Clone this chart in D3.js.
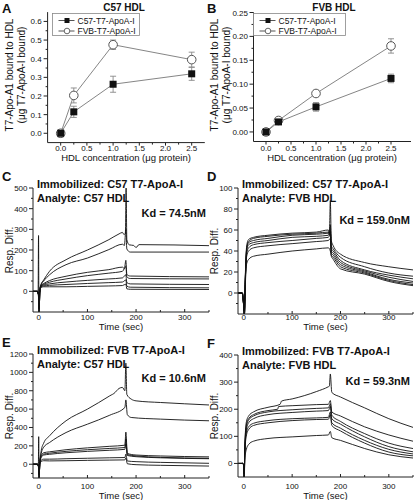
<!DOCTYPE html>
<html><head><meta charset="utf-8">
<script src="https://cdn.jsdelivr.net/npm/d3@7"></script>
<style>body{margin:0;background:#fff} text{font-family:"Liberation Sans",Arial,sans-serif;fill:#111}</style>
</head><body><svg id="c" width="414" height="500"></svg>
<script>
// ---------- Data: binding assays (A, B) ----------
const hdlConc = [0, 0.25, 1.0, 2.5];
const aC57 = [0.0, 0.115, 0.263, 0.319];
const aC57Err = [0.01, 0.03, 0.043, 0.035];
const aFVB = [0.0, 0.203, 0.475, 0.395];
const aFVBErr = [0.02, 0.04, 0.025, 0.04];
const bC57 = [0.0, 0.021, 0.0525, 0.112];
const bC57Err = [0.002, 0.003, 0.009, 0.009];
const bFVB = [0.0, 0.024, 0.0805, 0.180];
const bFVBErr = [0.002, 0.004, 0.004, 0.015];
const aYTicks = [0.0, 0.1, 0.2, 0.3, 0.4, 0.5, 0.6];
const bYTicks = [0.00, 0.05, 0.10, 0.15, 0.20, 0.25];
const concTicks = [0.0, 0.5, 1.0, 1.5, 2.0, 2.5];
const seriesNames = ["C57-T7-ApoA-I", "FVB-T7-ApoA-I"];

// ---------- Data: sensorgrams (C-F), [time, response] ----------
const timeTicks = [0, 100, 200, 300];
const cYTicks = [0, 100, 200, 300, 400, 500];
const dYTicks = [0, 20, 40, 60, 80, 100];
const eYTicks = [0, 200, 400, 600, 800, 1000, 1200];
const fYTicks = [0, 100, 200, 300, 400];

const tracesC = [
 [[-12,0],[-3,0],[-1.5,-12],[-0.6,270],[0.2,-100],[1.5,-5],[4,30],[10,55],[22,97],[56,153],[100,200],[144,250],[165,278],[172,285],[175,275],[178,280],[179.5,500],[181,250],[186,225],[195,222],[200,212],[206,226],[350,221]],
 [[-12,0],[-3,0],[-1,-15],[0.5,-100],[2,-5],[4,28],[10,50],[22,80],[56,129],[100,161],[144,202],[172,228],[176,222],[179,300],[181,205],[188,190],[350,190]],
 [[-12,0],[-3,0],[-1,-15],[0.6,-95],[2,-5],[4,28],[10,38],[22,52],[56,73],[100,92],[144,105],[172,117],[176,110],[179,150],[181,82],[188,74],[350,70]],
 [[-12,0],[-3,0],[-1,-12],[0.7,-90],[2,-5],[4,27],[10,34],[22,44],[56,60],[100,76],[144,88],[172,97],[179,120],[181,70],[188,62],[350,60]],
 [[-12,0],[-3,0],[-1,-10],[0.8,-85],[2,-5],[4,25],[10,30],[22,36],[56,45],[100,53],[144,60],[172,65],[179,80],[181,42],[188,36],[350,33]],
 [[-12,0],[-3,0],[-1,-10],[0.8,-80],[2,-5],[4,22],[10,26],[22,29],[56,33],[100,38],[144,42],[172,45],[179,55],[181,25],[188,20],[350,17]],
 [[-12,0],[-3,0],[-1,-10],[0.9,-75],[2,-5],[4,18],[10,22],[22,22],[56,22],[100,24],[144,26],[172,28],[179,35],[181,12],[188,10],[350,9]]
];
const tracesD = [
 [[-12,0],[-3,0],[-1,-8],[1,-20],[3,15],[6,45],[10,51],[20,53],[50,55],[100,57],[150,58],[175,60],[177,56],[179,88],[181,50],[185,45],[200,37],[250,29],[300,25],[350,22]],
 [[-12,0],[-3,0],[-1,-8],[1.2,-20],[3,12],[6,43],[10,49],[20,52],[50,54],[100,56],[150,57],[175,58],[177,55],[179,65],[181,45],[185,42],[200,34],[250,25],[300,19],[350,16]],
 [[-12,0],[-3,0],[-1,-8],[1.2,-20],[3,12],[6,42],[10,48],[20,50],[50,52],[100,55],[150,56],[175,57],[179,60],[181,42],[185,40],[200,31],[250,22],[300,17],[350,13.5]],
 [[-12,0],[-3,0],[-1,-8],[1.3,-20],[3,10],[6,40],[10,46],[20,48],[50,50],[100,53],[150,54],[175,55],[179,58],[181,40],[185,38],[200,29],[250,21],[300,15],[350,11]],
 [[-12,0],[-3,0],[-1,-8],[1.3,-20],[3,10],[6,38],[10,43],[20,46],[50,48],[100,50],[150,52],[175,53],[179,56],[181,38],[185,36],[200,27],[250,20],[300,13],[350,9.5]],
 [[-12,0],[-3,0],[-1,-8],[1.4,-20],[3,8],[6,35],[10,40],[20,43],[50,45],[100,47],[150,49],[175,50],[179,52],[181,36],[185,34],[200,25],[250,19],[300,12],[350,8]],
 [[-12,0],[-3,0],[-1,-8],[1.5,-20],[3,5],[6,28],[10,32],[20,35],[50,37],[100,40],[150,42],[175,43],[179,40],[181,35],[185,32],[200,23],[250,18],[300,11],[350,7]]
];
const tracesE = [
 [[-12,0],[-3,0],[-1,-20],[-0.3,300],[0.5,-150],[2,20],[5,150],[10,230],[22,309],[56,473],[100,600],[146,745],[157,782],[160,800],[165,825],[172,836],[177,800],[179,1100],[181,760],[190,709],[200,690],[250,672],[300,658],[350,645]],
 [[-12,0],[-3,0],[-1,-20],[0.5,-150],[2,20],[5,120],[10,185],[22,236],[56,345],[100,436],[146,534],[177,618],[179,700],[182,540],[190,509],[250,491],[350,473]],
 [[-12,0],[-3,0],[-1,-15],[0.6,-140],[2,10],[5,95],[10,125],[22,135],[56,158],[100,178],[146,195],[177,207],[179,350],[182,118],[200,100],[250,90],[350,80]],
 [[-12,0],[-3,0],[-1,-15],[0.7,-130],[2,10],[5,85],[10,110],[22,120],[56,140],[100,158],[146,172],[177,182],[179,280],[182,105],[200,90],[250,75],[350,65]],
 [[-12,0],[-3,0],[-1,-15],[0.8,-120],[2,10],[5,75],[10,100],[22,108],[56,125],[100,140],[146,152],[177,162],[179,220],[182,95],[200,82],[250,70],[350,60]],
 [[-12,0],[-3,0],[-1,-15],[0.9,-110],[2,5],[5,45],[10,55],[22,55],[56,60],[100,65],[146,70],[177,73],[179,110],[182,35],[200,28],[250,20],[350,10]],
 [[-12,0],[-3,0],[-1,-15],[1,-100],[2,0],[5,30],[10,38],[22,36],[56,38],[100,42],[146,45],[177,47],[179,70],[182,5],[200,-5],[250,-12],[350,-20]]
];
const tracesF = [
 [[-12,0],[-2,0],[-0.5,-5],[0.8,-50],[2,50],[5,150],[10,175],[20,190],[50,207],[75,218],[78,230],[100,238],[150,265],[175,283],[177,285],[179,330],[182,262],[200,245],[250,205],[300,165],[350,133]],
 [[-12,0],[-2,0],[-0.5,-5],[0.8,-50],[2,50],[5,140],[10,165],[20,180],[50,195],[70,200],[72,210],[100,213],[150,217],[175,218],[179,232],[182,190],[200,175],[250,135],[300,105],[350,82]],
 [[-12,0],[-2,0],[-0.5,-5],[0.9,-50],[2,45],[5,130],[10,160],[20,175],[50,190],[100,198],[150,203],[175,205],[179,220],[182,178],[200,155],[250,110],[300,75],[350,55]],
 [[-12,0],[-2,0],[-0.5,-5],[0.9,-50],[2,40],[5,120],[10,150],[20,165],[50,180],[100,188],[150,193],[175,195],[179,210],[182,165],[200,145],[250,98],[300,62],[350,43]],
 [[-12,0],[-2,0],[-0.5,-5],[1,-50],[2,35],[5,110],[10,135],[20,148],[50,158],[100,165],[150,168],[175,170],[179,190],[182,150],[200,130],[250,85],[300,52],[350,35]],
 [[-12,0],[-2,0],[-0.5,-5],[1,-50],[2,30],[5,100],[10,125],[20,140],[50,150],[100,158],[150,162],[175,163],[179,180],[182,140],[200,120],[250,75],[300,42],[350,28]],
 [[-12,0],[-2,0],[-0.5,-5],[1.1,-50],[2,15],[5,50],[10,70],[20,82],[50,92],[100,98],[150,103],[175,105],[179,118],[182,95],[200,85],[250,55],[300,32],[350,20]]
];

// ---------- Drawing ----------
const svg = d3.select("#c");

function label(x, y, s, size, opts = {}) {
  const t = svg.append("text").attr("x", x).attr("y", y).text(s)
    .style("font-size", size + "px")
    .attr("text-anchor", opts.anchor || "start")
    .style("font-weight", opts.bold ? "bold" : "normal");
  if (opts.rotate) t.attr("transform", `rotate(-90,${x},${y})`);
  return t;
}

function leftAxis(x, y, ticks, minor, fmt, labelOff) {
  const g = svg.append("g");
  g.append("line").attr("x1", x.range()[0]).attr("x2", x.range()[0])
    .attr("y1", y.range()[0]).attr("y2", y.range()[1]).attr("stroke", "#222");
  const x0 = x.range()[0];
  minor.forEach(v => g.append("line").attr("x1", x0 - 2).attr("x2", x0).attr("y1", y(v)).attr("y2", y(v)).attr("stroke", "#222"));
  ticks.forEach(v => {
    g.append("line").attr("x1", x0 - 4).attr("x2", x0).attr("y1", y(v)).attr("y2", y(v)).attr("stroke", "#222");
    label(x0 - labelOff, y(v) + 3, fmt(v), 8, {anchor: "end"});
  });
}

function bottomAxis(x, y, ticks, minor, fmt, labY, inward) {
  const g = svg.append("g");
  const y0 = y.range()[0];
  g.append("line").attr("x1", x.range()[0]).attr("x2", x.range()[1])
    .attr("y1", y0).attr("y2", y0).attr("stroke", "#222");
  const d = inward ? -1 : 1;
  minor.forEach(v => g.append("line").attr("x1", x(v)).attr("x2", x(v)).attr("y1", y0).attr("y2", y0 + d * 2).attr("stroke", "#222"));
  ticks.forEach(v => {
    g.append("line").attr("x1", x(v)).attr("x2", x(v)).attr("y1", y0).attr("y2", y0 + d * 3).attr("stroke", "#222");
    label(x(v), labY, fmt(v), 8, {anchor: "middle"});
  });
}

// ----- Panels A and B -----
function bindingPanel(x, y, c57, c57e, fvb, fvbe, yTicks, yMinor, yFmt, yLabOff, legX, legW) {
  leftAxis(x, y, yTicks, yMinor, yFmt, yLabOff);
  bottomAxis(x, y, concTicks, [0.25, 0.75, 1.25, 1.75, 2.25], d3.format(".1f"), 151, false);
  const line = d3.line().x((d, i) => x(hdlConc[i])).y(d => y(d));
  [[c57, c57e], [fvb, fvbe]].forEach(([vals, errs]) => {
    svg.append("path").attr("d", line(vals)).attr("fill", "none").attr("stroke", "#777").attr("stroke-width", 0.9);
    vals.forEach((v, i) => {
      const cx = x(hdlConc[i]);
      const g = svg.append("g").attr("stroke", "#888").attr("stroke-width", 0.9);
      g.append("line").attr("x1", cx).attr("x2", cx).attr("y1", y(v - errs[i])).attr("y2", y(v + errs[i]));
      g.append("line").attr("x1", cx - 3).attr("x2", cx + 3).attr("y1", y(v - errs[i])).attr("y2", y(v - errs[i]));
      g.append("line").attr("x1", cx - 3).attr("x2", cx + 3).attr("y1", y(v + errs[i])).attr("y2", y(v + errs[i]));
    });
  });
  fvb.forEach((v, i) => svg.append("circle").attr("cx", x(hdlConc[i])).attr("cy", y(v)).attr("r", 4.3)
    .attr("fill", "#fff").attr("stroke", "#555").attr("stroke-width", 1));
  c57.forEach((v, i) => svg.append("rect").attr("x", x(hdlConc[i]) - 3.5).attr("y", y(v) - 3.5)
    .attr("width", 7).attr("height", 7).attr("fill", "#111"));
  // legend
  svg.append("rect").attr("x", legX).attr("y", 13.5).attr("width", legW).attr("height", 22)
    .attr("fill", "#fff").attr("stroke", "#888").attr("stroke-width", 0.8);
  [20.5, 31].forEach((ly, k) => {
    svg.append("line").attr("x1", legX + 6).attr("x2", legX + 22).attr("y1", ly).attr("y2", ly).attr("stroke", "#555");
    if (k === 0) svg.append("rect").attr("x", legX + 12).attr("y", ly - 2.5).attr("width", 5).attr("height", 5).attr("fill", "#111");
    else svg.append("circle").attr("cx", legX + 14.5).attr("cy", ly).attr("r", 2.8).attr("fill", "#fff").attr("stroke", "#666");
    label(legX + 25, ly + 3, seriesNames[k], 8.5);
  });
}

const xA = d3.scaleLinear().domain([-0.25, 2.75]).range([47.6, 204.8]);
const yA = d3.scaleLinear().domain([-0.05, 0.65]).range([142.6, 12.1]);
bindingPanel(xA, yA, aC57, aC57Err, aFVB, aFVBErr, aYTicks, [0.05, 0.15, 0.25, 0.35, 0.45, 0.55], d3.format(".1f"), 6, 52.5, 87);
const xB = d3.scaleLinear().domain([-0.25, 2.9]).range([253.5, 411]);
const yB = d3.scaleLinear().domain([-0.02, 0.25]).range([141.5, 12.5]);
bindingPanel(xB, yB, bC57, bC57Err, bFVB, bFVBErr, bYTicks, [0.025, 0.075, 0.125, 0.175, 0.225], d3.format(".2f"), 5.5, 253.5, 92);

label(2, 13, "A", 13, {bold: true});
label(207, 13, "B", 13, {bold: true});
label(124, 11, "C57 HDL", 10, {bold: true, anchor: "middle"});
label(334, 11, "FVB HDL", 10, {bold: true, anchor: "middle"});
label(126, 161, "HDL concentration (μg protein)", 9.5, {anchor: "middle"});
label(332, 161, "HDL concentration (μg protein)", 9.5, {anchor: "middle"});
label(12.5, 75, "T7-Apo-A1 bound to HDL", 10, {anchor: "middle", rotate: true});
label(24.5, 75, "(μg T7-ApoA-I bound)", 10, {anchor: "middle", rotate: true});
label(217.5, 75, "T7-Apo-A1 bound to HDL", 10, {anchor: "middle", rotate: true});
label(229.5, 75, "(μg T7-ApoA-I bound)", 10, {anchor: "middle", rotate: true});

// ----- Sensorgram panels -----
function sensorPanel(id, left, right, top, bottom, yDom, yTicks, yMinor, traces, letter, immob, analyte, kd, kdY, labY) {
  const x = d3.scaleLinear().domain([-12, 350]).range([left, right]);
  const y = d3.scaleLinear().domain(yDom).range([bottom, top]);
  svg.append("clipPath").attr("id", "clip" + id).append("rect")
    .attr("x", left).attr("y", top - 1).attr("width", right - left).attr("height", bottom - top + 1);
  const line = d3.line().x(d => x(d[0])).y(d => y(d[1])).curve(d3.curveMonotoneX);
  const g = svg.append("g").attr("clip-path", `url(#clip${id})`);
  traces.forEach(tr => g.append("path").attr("d", line(tr)).attr("fill", "none")
    .attr("stroke", "#111").attr("stroke-width", 0.9));
  leftAxis(x, y, yTicks, yMinor, d3.format("d"), 5.5);
  bottomAxis(x, y, timeTicks, [50, 150, 250, 350], d3.format("d"), labY, true);
  label((left + right) / 2, labY + 10, "Time (sec)", 9.5, {anchor: "middle"});
  label(left - 20, (top + bottom) / 2, "Resp. Diff.", 10, {anchor: "middle", rotate: true});
  label(left - 31, top - 7, letter, 13, {bold: true});
  label(left + 4, top, immob, 11, {bold: true});
  label(left + 4, top + 13.5, analyte, 11, {bold: true});
  label(right - 3, kdY, kd, 11, {bold: true, anchor: "end"});
}

sensorPanel("C", 33, 209, 188, 312, [-100, 500], cYTicks, [-50, 50, 150, 250, 350, 450], tracesC,
  "C", "Immobilized: C57 T7-ApoA-I", "Analyte: C57 HDL", "Kd = 74.5nM", 217, 320);
sensorPanel("D", 238, 413, 188, 314, [-20, 100], dYTicks, [-10, 10, 30, 50, 70, 90], tracesD,
  "D", "Immobilized: C57 T7-ApoA-I", "Analyte: FVB HDL", "Kd = 159.0nM", 224, 320);
sensorPanel("E", 33, 209, 354, 478, [-150, 1200], eYTicks, [-100, 100, 300, 500, 700, 900, 1100], tracesE,
  "E", "Immobilized: FVB T7-ApoA-I", "Analyte: C57 HDL", "Kd = 10.6nM", 382, 488.5);
sensorPanel("F", 238, 413, 355, 477, [-50, 400], fYTicks, [50, 150, 250, 350], tracesF,
  "F", "Immobilized: FVB T7-ApoA-I", "Analyte: FVB HDL", "Kd = 59.3nM", 385, 488.5);
</script></body></html>
